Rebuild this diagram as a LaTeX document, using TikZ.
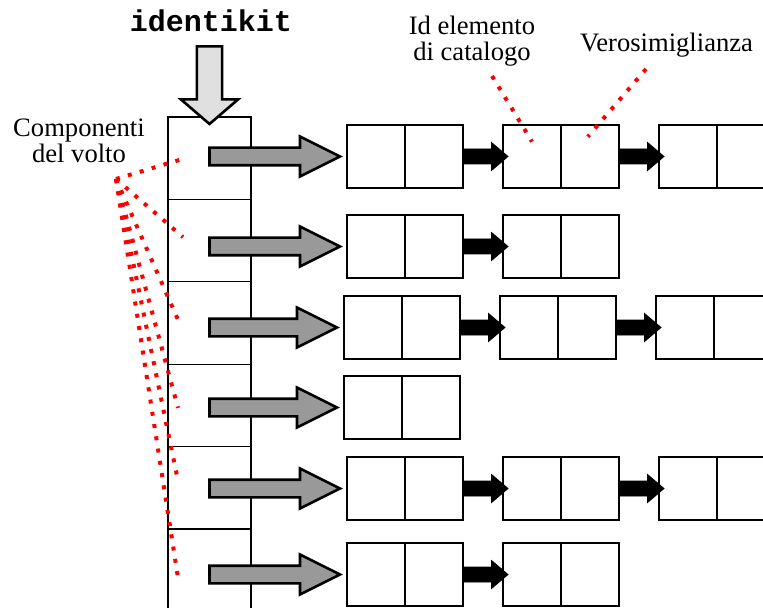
\documentclass[tikz,border=0pt]{standalone}
\usepackage{fontspec}
\setmainfont{Liberation Serif}
\setmonofont{Liberation Mono}
\usepackage{tikz}
\usetikzlibrary{positioning,calc}

\tikzset{
  listcell/.style={draw, line width=0.65pt, minimum width=29pt, minimum height=31.5pt, inner sep=0pt, outer sep=0pt},
  colcell/.style={draw, line width=0.65pt, minimum width=41.5pt, minimum height=41.2pt, inner sep=0pt, outer sep=0pt},
  reddots/.style={red, line width=2pt, dash pattern=on 2pt off 4.2pt},
  grayarr/.style={draw=black, fill=black!40, line width=1.3pt, line join=miter},
  blackarr/.style={fill=black},
  toparr/.style={draw=black, fill=black!12, line width=1.3pt, line join=miter},
  lbl/.style={font=\fontsize{13.3}{13}\selectfont, align=center, inner sep=0pt}
}

% fat horizontal arrow: style, from, to, shaft half, head half, head length
\newcommand{\fatarrow}[6][]{%
  \draw[#1] let \p1=(#2), \p2=(#3) in
    (\x1,\y2+#4) -- (\x2-#6,\y2+#4) -- (\x2-#6,\y2+#5) -- (\x2,\y2)
    -- (\x2-#6,\y2-#5) -- (\x2-#6,\y2-#4) -- (\x1,\y2-#4) -- cycle;}

\begin{document}
\begin{tikzpicture}[x=0.5pt,y=-0.5pt]
        \clip (0,0) rectangle (763,608);
        \fill[white] (0,0) rectangle (763,608);

        \node[colcell, anchor=north] (col1) at (209.5,117) {};
        \foreach \i [remember=\i as \j (initially 1)] in {2,...,6}
          \node[colcell, below=0pt of col\j] (col\i) {};

        \foreach \row/\ty/\lx/\cnt in {1/125/347/3, 2/215/347/2, 3/296/344/3, 4/376/344/1, 5/457/347/3, 6/543/347/2}{
          \foreach \k in {1,...,\cnt}{
            \node[listcell, anchor=north west] (r\row-\k-a) at (\lx+156*\k-156,\ty) {};
            \node[listcell, right=0pt of r\row-\k-a] (r\row-\k-b) {};
            \ifnum\k>1
              \pgfmathtruncatemacro\q{\k-1}
              \fatarrow[blackarr]{r\row-\q-b.east}{[xshift=2.5pt]r\row-\k-a.west}{3.75pt}{7pt}{8.25pt}
            \fi
          }
        }

        \node[lbl] (comp) at (79,141) {Componenti\\del volto};
        \node[lbl] (idel) at (472,41) {Id elemento\\di catalogo};
        \node[lbl, anchor=base] (veros) at (666.5,52) {Verosimiglianza};
        \node[font=\ttfamily\bfseries\fontsize{15}{15}\selectfont, anchor=base, inner sep=0pt] (idk) at (211,32) {identikit};

        \coordinate (cv) at (116,179);
        \coordinate (idend) at (492,76);
        \coordinate (veend) at (646,69);
        \foreach \row/\dx/\dy in {1/9.5/0.25, 2/7.5/1.75, 3/6.5/-1.75, 4/5/-1.25, 5/5/3.5, 6/5/-3.75}
          \draw[reddots] (cv) -- ([xshift=\dx pt, yshift=\dy pt]col\row.west);
        \draw[reddots] (idend) -- ([yshift=7.4pt]r1-2-a.center);
        \draw[reddots] (veend) -- ([xshift=-1.1pt, yshift=9.9pt]r1-2-b.center);

        \foreach \row in {1,...,6}{
          \fatarrow[grayarr]{col\row.center |- r\row-1-a.west}{[xshift=-3.5pt]r\row-1-a.west}{4.4pt}{10pt}{20pt}
        }

        \draw[toparr] let \p1=([yshift=-7.2pt]idk.base), \p2=([yshift=-3.5pt]col1.north) in
          (\x2-6.3pt,\y1) -- (\x2+6.3pt,\y1) -- (\x2+6.3pt,\y2+12.3pt) -- (\x2+14.3pt,\y2+12.3pt)
          -- (\x2,\y2) -- (\x2-14.3pt,\y2+12.3pt) -- (\x2-6.3pt,\y2+12.3pt) -- cycle;
\end{tikzpicture}
\end{document}
